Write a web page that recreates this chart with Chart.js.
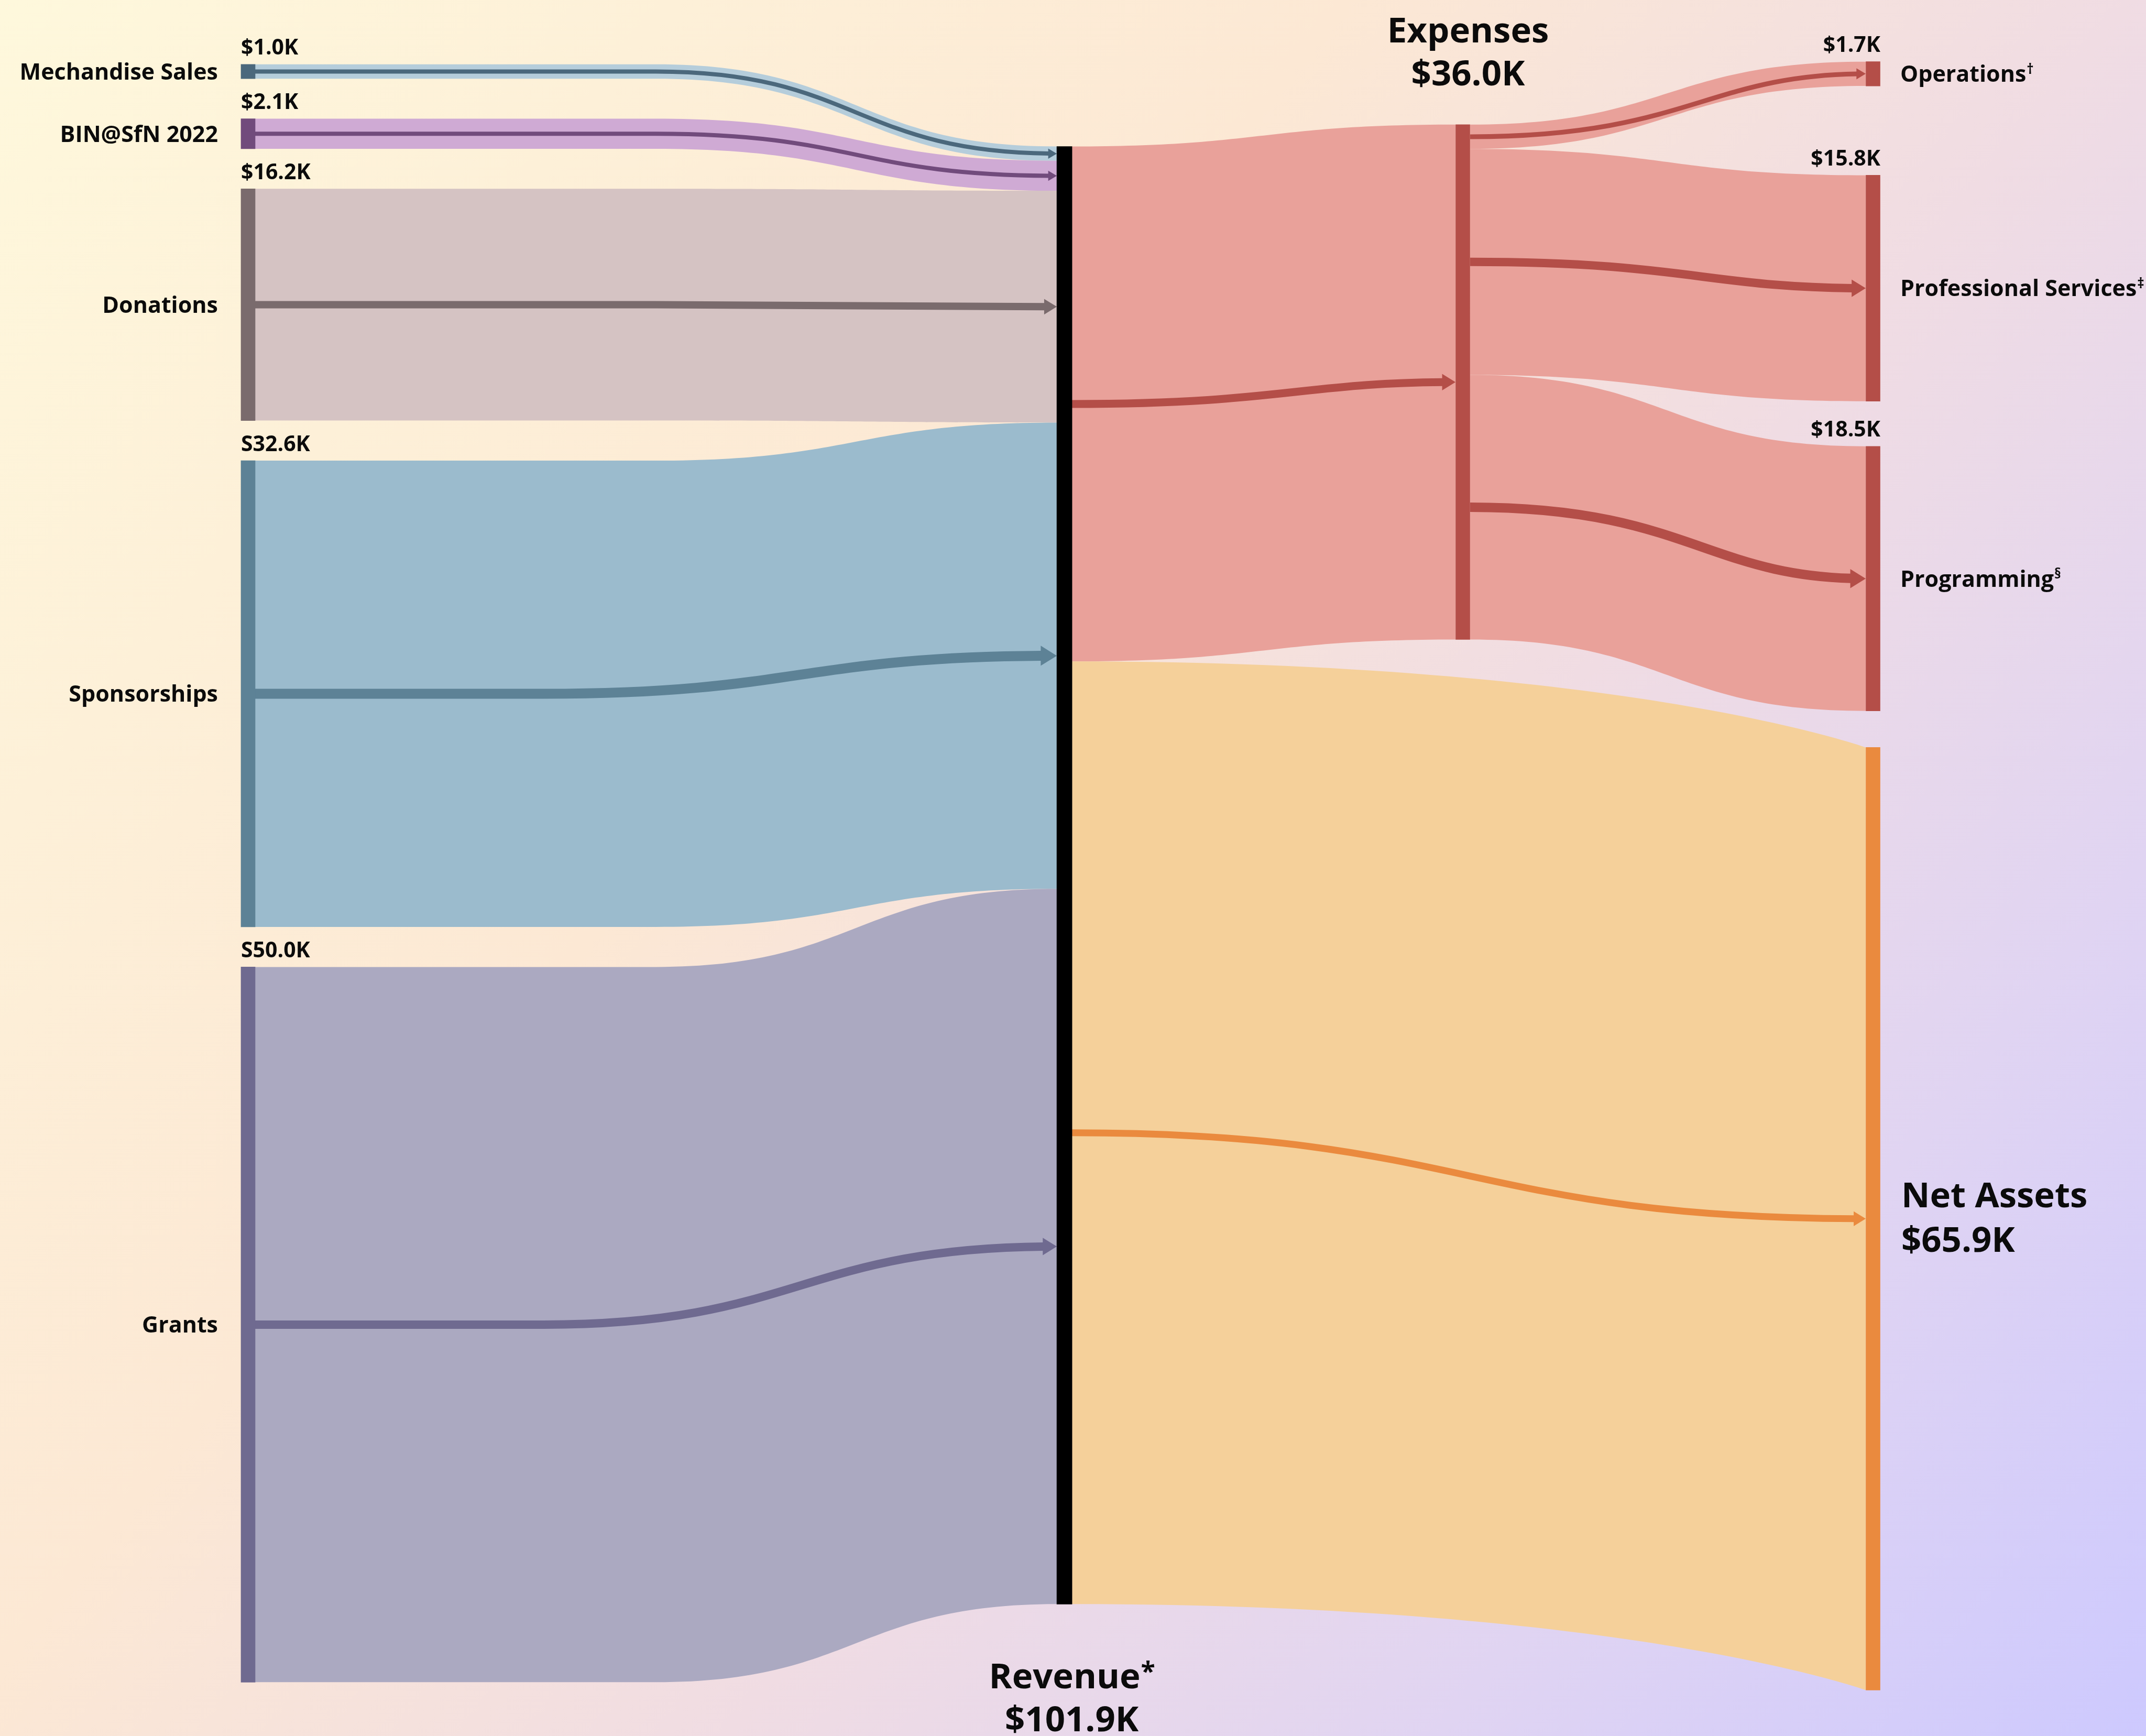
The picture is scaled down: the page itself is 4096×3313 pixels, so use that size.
<!DOCTYPE html>
<html>
<head>
<meta charset="utf-8">
<style>
  html, body { margin: 0; padding: 0; overflow: hidden; background: #fdf0da; }
  #wrap { width: 4096px; height: 3313px; }
</style>
<script src="https://cdn.jsdelivr.net/npm/chart.js@4.4.1/dist/chart.umd.min.js"></script>
</head>
<body>
<div id="wrap"><canvas id="c" width="4096" height="3313"></canvas></div>
<script>
// ---------------- DATA (values in $K) ----------------
const sourceNames = ["Mechandise Sales", "BIN@SfN 2022", "Donations", "Sponsorships", "Grants"];
const sourceValues = [1.0, 2.1, 16.2, 32.6, 50.0];
const sourceValueLabels = ["$1.0K", "$2.1K", "$16.2K", "S32.6K", "S50.0K"];

const revenueTitle = ["Revenue*", "$101.9K"];
const expensesTitle = ["Expenses", "$36.0K"];
const expensesTotal = 36.0;

const expenseNames = ["Operations\u2020", "Professional Services\u2021", "Programming\u00a7"];
const expenseValues = [1.7, 15.8, 18.5];
const expenseValueLabels = ["$1.7K", "$15.8K", "$18.5K"];

const netAssetsValue = 65.9;
const netAssetsTitle = ["Net Assets", "$65.9K"];

// ---------------- LAYOUT (scale units: x = % of width, y = $K) ----------------
const COL_X = { src: 11.56, rev: 49.6, exp: 68.165, out: 87.28 };
const COL_THICK = { src: 27, rev: 29, exp: 28, out: 28 };   // px
const SRC_TOP = 0, SRC_GAP = 2.8, REV_TOP = 5.74, EXP_TOP = 4.21;
const OUT_TOPS = [-0.19, 7.75, 26.7];
const NA_TOP = 47.75;

// ---------------- STYLE ----------------
const FONT = "'Open Sans', Lato, sans-serif";
const srcBand = ["#b5cddb", "#cfaad4", "#d5c3c3", "#9bbbcd", "#aba9c1"];
const srcDark = ["#4b687c", "#714b7c", "#7a6b6d", "#5d8296", "#6f6a90"];
const srcLineW = [8, 8, 14, 19, 16];
const srcLineFlat = [0.5, 0.5, 0.5, 0.36, 0.36];
const expBand = "#e9a19a", expDark = "#b44e48";
const naBand = "#f5d09a", naDark = "#ea8a3e";
const outLineW = [9, 16, 18];

// ---------------- MODEL ----------------
const srcNodes = [];
{ let t = SRC_TOP; sourceValues.forEach(v => { srcNodes.push({ top: t, bottom: t + v }); t += v + SRC_GAP; }); }
const revTotal = sourceValues.reduce((a, b) => a + b, 0);
const revNode = { top: REV_TOP, bottom: REV_TOP + revTotal };
const expNode = { top: EXP_TOP, bottom: EXP_TOP + expensesTotal };
const outNodes = expenseValues.map((v, i) => ({ top: OUT_TOPS[i], bottom: OUT_TOPS[i] + v }));
const naNode = { top: NA_TOP, bottom: NA_TOP + netAssetsValue };

const links = [];
{
  let c = REV_TOP;
  sourceValues.forEach((v, i) => {
    links.push({ from: 'src', to: 'rev', s: [srcNodes[i].top, srcNodes[i].bottom], t: [c, c + v],
      band: srcBand[i], dark: srcDark[i], lw: srcLineW[i],
      edge: { flat: 0.5, c1: 0.5, c2: 0.5 }, line: { flat: srcLineFlat[i], c1: 0.5, c2: 0.5 } });
    c += v;
  });
  links.push({ from: 'rev', to: 'exp', s: [REV_TOP, REV_TOP + expensesTotal], t: [expNode.top, expNode.bottom],
    band: expBand, dark: expDark, lw: 15, edge: { flat: 0, c1: 0.5, c2: 0.5 }, line: { flat: 0, c1: 0.55, c2: 0.6 } });
  links.push({ from: 'rev', to: 'out', s: [REV_TOP + expensesTotal, REV_TOP + revTotal], t: [naNode.top, naNode.bottom],
    band: naBand, dark: naDark, lw: 13, edge: { flat: 0, c1: 0.7, c2: 1.0 }, line: { flat: 0, c1: 0.5, c2: 0.5 } });
  let e = EXP_TOP;
  expenseValues.forEach((v, i) => {
    links.push({ from: 'exp', to: 'out', s: [e, e + v], t: [outNodes[i].top, outNodes[i].bottom],
      band: expBand, dark: expDark, lw: outLineW[i], edge: { flat: 0, c1: 0.5, c2: 0.5 }, line: { flat: 0, c1: 0.55, c2: 0.6 } });
    e += v;
  });
}

// ---------------- DRAW HELPERS ----------------
function colEdges(xs, col) {
  const c = xs.getPixelForValue(COL_X[col]);
  return [c - COL_THICK[col] / 2, c + COL_THICK[col] / 2];
}
function curveTo(ctx, x0, x1, y0, y1, p, move) {
  const xs = x0 + p.flat * (x1 - x0), w = x1 - xs;
  if (move) ctx.moveTo(x0, y0); else ctx.lineTo(x0, y0);
  if (xs > x0) ctx.lineTo(xs, y0);
  ctx.bezierCurveTo(xs + p.c1 * w, y0, xs + p.c2 * w, y1, x1, y1);
}
function curveBack(ctx, x0, x1, y0, y1, p) {
  const xs = x0 + p.flat * (x1 - x0), w = x1 - xs;
  ctx.lineTo(x1, y1);
  ctx.bezierCurveTo(xs + p.c2 * w, y1, xs + p.c1 * w, y0, xs, y0);
  ctx.lineTo(x0, y0);
}
function drawLink(chart, l) {
  const { ctx, scales: { x, y } } = chart;
  const x0 = colEdges(x, l.from)[1], x1 = colEdges(x, l.to)[0];
  const s0 = y.getPixelForValue(l.s[0]), s1 = y.getPixelForValue(l.s[1]);
  const t0 = y.getPixelForValue(l.t[0]), t1 = y.getPixelForValue(l.t[1]);
  ctx.save();
  ctx.fillStyle = l.band;
  ctx.beginPath();
  curveTo(ctx, x0, x1, s0, t0, l.edge, true);
  curveBack(ctx, x0, x1, s1, t1, l.edge);
  ctx.closePath();
  ctx.fill();
  // centre line with arrow head
  const sc = (s0 + s1) / 2, tc = (t0 + t1) / 2;
  const head = 1.3 * l.lw + 6, half = 0.85 * l.lw + 3;
  ctx.save();
  ctx.beginPath();
  ctx.rect(0, 0, x1 - head + 1, chart.height);
  ctx.clip();
  ctx.strokeStyle = l.dark;
  ctx.lineWidth = l.lw;
  ctx.lineCap = 'butt';
  ctx.beginPath();
  curveTo(ctx, x0, x1, sc, tc, l.line, true);
  ctx.stroke();
  ctx.restore();
  ctx.fillStyle = l.dark;
  ctx.beginPath();
  ctx.moveTo(x1, tc);
  ctx.lineTo(x1 - head, tc - half);
  ctx.lineTo(x1 - head, tc + half);
  ctx.closePath();
  ctx.fill();
  ctx.restore();
}
function drawText(ctx, str, x, yCenter, size, align) {
  // y given as cap-centre; supports trailing superscript marks
  ctx.font = `700 ${size}px ${FONT}`;
  ctx.fillStyle = '#0b0b0b';
  ctx.textBaseline = 'alphabetic';
  const base = yCenter + size * 0.357;
  const last = str.slice(-1);
  if ('\u2020\u2021\u00a7*'.includes(last)) {
    const main = str.slice(0, -1);
    const w1 = ctx.measureText(main).width;
    const ss = Math.round(size * (last === '*' ? 0.75 : 0.6));
    ctx.font = `700 ${ss}px ${FONT}`;
    const w2 = ctx.measureText(last).width;
    let sx = x;
    if (align === 'right') sx = x - w1 - w2; else if (align === 'center') sx = x - (w1 + w2) / 2;
    ctx.textAlign = 'left';
    ctx.font = `700 ${size}px ${FONT}`;
    ctx.fillText(main, sx, base);
    ctx.font = `700 ${ss}px ${FONT}`;
    ctx.fillText(last, sx + w1 + 1, base - size * (last === '*' ? 0.22 : 0.36));
  } else {
    ctx.textAlign = align;
    ctx.fillText(str, x, base);
  }
}

// ---------------- PLUGINS ----------------
const bgPlugin = {
  id: 'bg',
  beforeDraw(chart) {
    const { ctx, width, height } = chart;
    const g = ctx.createLinearGradient(0, 0, width, height);
    g.addColorStop(0, '#fef8dc');
    g.addColorStop(0.38, '#fce8d4');
    g.addColorStop(0.6, '#f0dce3');
    g.addColorStop(0.8, '#e0d4f2');
    g.addColorStop(1, '#cdc9fe');
    ctx.save();
    ctx.fillStyle = g;
    ctx.fillRect(0, 0, width, height);
    ctx.restore();
  }
};
const sankeyPlugin = {
  id: 'sankey',
  beforeDatasetsDraw(chart) {
    links.forEach(l => drawLink(chart, l));
  },
  afterDatasetsDraw(chart) {
    const { ctx, scales: { x, y } } = chart;
    const NAME = 43, VAL = 41, BIG = 67;
    const [sl] = colEdges(x, 'src');
    srcNodes.forEach((n, i) => {
      const top = y.getPixelForValue(n.top), bot = y.getPixelForValue(n.bottom);
      drawText(ctx, sourceNames[i], sl - 44, (top + bot) / 2, NAME, 'right');
      drawText(ctx, sourceValueLabels[i], sl, top - 33, VAL, 'left');
    });
    const [, or] = colEdges(x, 'out');
    outNodes.forEach((n, i) => {
      const top = y.getPixelForValue(n.top), bot = y.getPixelForValue(n.bottom);
      drawText(ctx, expenseNames[i], or + 38, (top + bot) / 2, NAME, 'left');
      drawText(ctx, expenseValueLabels[i], or, top - 33, VAL, 'right');
    });
    const naC = (y.getPixelForValue(naNode.top) + y.getPixelForValue(naNode.bottom)) / 2;
    drawText(ctx, netAssetsTitle[0], or + 40, naC - 46, BIG, 'left');
    drawText(ctx, netAssetsTitle[1], or + 40, naC + 39, BIG, 'left');
    const ex = x.getPixelForValue(COL_X.exp) + 10, et = y.getPixelForValue(expNode.top);
    drawText(ctx, expensesTitle[0], ex, et - 181, BIG, 'center');
    drawText(ctx, expensesTitle[1], ex, et - 99, BIG, 'center');
    const rx = x.getPixelForValue(COL_X.rev) + 14, rb = y.getPixelForValue(revNode.bottom);
    drawText(ctx, revenueTitle[0], rx, rb + 137, BIG, 'center');
    drawText(ctx, revenueTitle[1], rx, rb + 219, BIG, 'center');
  }
};

// ---------------- CHART ----------------
const nodeBars = [
  ...srcNodes.map(n => ({ x: COL_X.src, y: [n.top, n.bottom] })),
  { x: COL_X.exp, y: [expNode.top, expNode.bottom] },
  ...outNodes.map(n => ({ x: COL_X.out, y: [n.top, n.bottom] })),
  { x: COL_X.out, y: [naNode.top, naNode.bottom] }
];
const nodeColors = [...srcDark, expDark, expDark, expDark, expDark, naDark];

new Chart(document.getElementById('c'), {
  type: 'bar',
  data: {
    datasets: [
      { data: nodeBars, backgroundColor: nodeColors, barThickness: COL_THICK.src, grouped: false, borderWidth: 0 },
      { data: [{ x: COL_X.rev, y: [revNode.top, revNode.bottom] }], backgroundColor: '#000000',
        barThickness: COL_THICK.rev, grouped: false, borderWidth: 0 }
    ]
  },
  options: {
    responsive: false,
    animation: false,
    devicePixelRatio: 1,
    layout: { padding: 0 },
    plugins: { legend: { display: false }, tooltip: { enabled: false } },
    scales: {
      x: { type: 'linear', min: 0, max: 100, offset: false, display: false },
      y: { type: 'linear', min: -4.5, max: 116.86, reverse: true, display: false }
    }
  },
  plugins: [bgPlugin, sankeyPlugin]
});
</script>
</body>
</html>
